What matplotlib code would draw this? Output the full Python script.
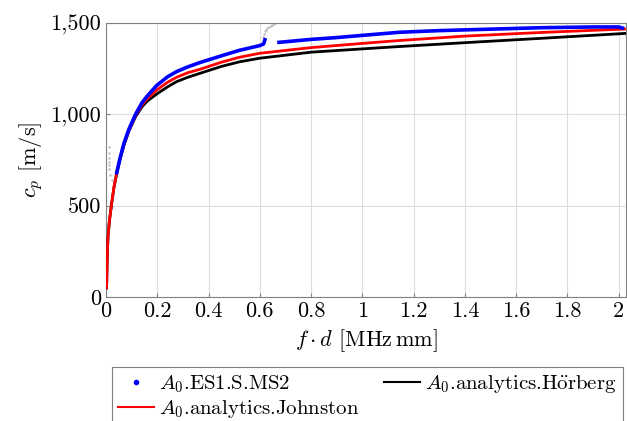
import numpy as np
import matplotlib
matplotlib.use("Agg")
import matplotlib.pyplot as plt
from matplotlib.lines import Line2D
from matplotlib.ticker import FuncFormatter, MultipleLocator

# measured A0 (ES1.S.MS2) - NaN splits the two branches
fd_meas = [0.042, 0.055, 0.07, 0.09, 0.116, 0.14, 0.161, 0.198, 0.24, 0.276, 0.32, 0.366, 0.45, 0.52,
           0.6, 0.615, 0.62,
           np.nan, 0.675, 0.7, 0.8, 0.9, 1.0, 1.146, 1.3, 1.5, 1.7, 1.9, 2.0, 2.015]
c_meas = [680, 760, 841, 920, 1002, 1062, 1100, 1158, 1205, 1234, 1260, 1283, 1320, 1350,
          1376, 1385, 1408,
          np.nan, 1394, 1397, 1410, 1420, 1432, 1449, 1458, 1466, 1474, 1478, 1478, 1472]

# outlier points (grey)
fd_out = [0.003, 0.003, 0.004, 0.010, 0.010, 0.011, 0.011, 0.012, 0.013, 0.014, 0.022, 0.023, 0.024,
          0.612, 0.616, 0.622, 0.626, 0.63, 0.636, 0.642, 0.648, 0.655, 0.66]
c_out = [240, 300, 360, 820, 790, 760, 740, 720, 700, 670, 640, 560, 490,
         1425, 1440, 1455, 1462, 1470, 1478, 1485, 1490, 1496, 1500]

# analytical Johnston
fd_john = [0.002, 0.003, 0.005, 0.008, 0.013, 0.021, 0.031, 0.044, 0.055, 0.07, 0.09, 0.116, 0.14,
           0.161, 0.198, 0.24, 0.276, 0.32, 0.366, 0.45, 0.52, 0.6, 0.8, 1.0, 1.146, 1.4, 1.7, 2.03]
c_john = [50, 84, 220, 330, 410, 500, 600, 695, 760, 835, 915, 995, 1050,
          1085, 1133, 1175, 1203, 1228, 1246, 1285, 1312, 1334, 1365, 1388, 1404, 1428, 1448, 1467]

# analytical Hoerberg
fd_hoer = [0.002, 0.003, 0.005, 0.008, 0.013, 0.021, 0.031, 0.044, 0.055, 0.07, 0.09, 0.116, 0.14,
           0.161, 0.198, 0.24, 0.276, 0.32, 0.366, 0.45, 0.52, 0.6, 0.8, 1.0, 1.146, 1.4, 1.7, 2.03]
c_hoer = [50, 84, 220, 330, 410, 500, 598, 690, 755, 830, 910, 988, 1040,
          1072, 1111, 1150, 1179, 1203, 1224, 1262, 1287, 1307, 1340, 1358, 1371, 1392, 1416, 1443]

plt.rcParams['font.family'] = 'serif'
plt.rcParams['font.serif'] = ['cmr10']
plt.rcParams['mathtext.fontset'] = 'cm'
plt.rcParams['axes.formatter.use_mathtext'] = True

fig = plt.figure(figsize=(6.27, 4.21), dpi=100)
ax = fig.add_axes([0.169, 0.2945, 0.830, 0.651])

ax.scatter(fd_out, c_out, s=3, color='#bdbdbd', zorder=2, linewidths=0)
ax.plot(fd_hoer, c_hoer, color='black', lw=2.0, zorder=3)
ax.plot(fd_john, c_john, color='red', lw=2.0, zorder=4)
ax.plot(fd_meas, c_meas, color='blue', lw=2.6, zorder=5)

ax.set_xlim(0, 2.03)
ax.set_ylim(0, 1500)
ax.xaxis.set_major_locator(MultipleLocator(0.2))
ax.yaxis.set_major_locator(MultipleLocator(500))
ax.xaxis.set_major_formatter(FuncFormatter(lambda v, p: f'{v:.1f}'.rstrip('0').rstrip('.') if v else '0'))
ax.yaxis.set_major_formatter(FuncFormatter(lambda v, p: f'{v:,.0f}'))
ax.tick_params(labelsize=16, length=3, direction='in', color='#808080')
ax.grid(True, color='#dddddd', lw=0.8)
ax.set_axisbelow(True)
for sp in ax.spines.values():
    sp.set_color('#808080')

ax.set_xlabel(r'$f \cdot d$ [MHz$\,$mm]', fontsize=16)
ax.set_ylabel(r'$c_p$ [m/s]', fontsize=16)

handles = [
    Line2D([], [], ls='', marker='o', ms=3, color='blue', label=r'$A_0$.ES1.S.MS2'),
    Line2D([], [], color='red', lw=1.5, label=r'$A_0$.analytics.Johnston'),
    Line2D([], [], color='black', lw=1.5, label=r'$A_0$.analytics.H$\ddot{\rm o}$rberg'),
]
leg = fig.legend(handles=handles, ncol=2, loc='upper left',
                 bbox_to_anchor=(0.179, 0.128), bbox_transform=fig.transFigure,
                 fontsize=15, fancybox=False, edgecolor='#808080', framealpha=1,
                 handlelength=1.7, handletextpad=0.25, columnspacing=1.2,
                 borderaxespad=0, labelspacing=0.15, borderpad=0.3)
leg.get_frame().set_linewidth(0.8)

fig.savefig('out.png', dpi=100)
